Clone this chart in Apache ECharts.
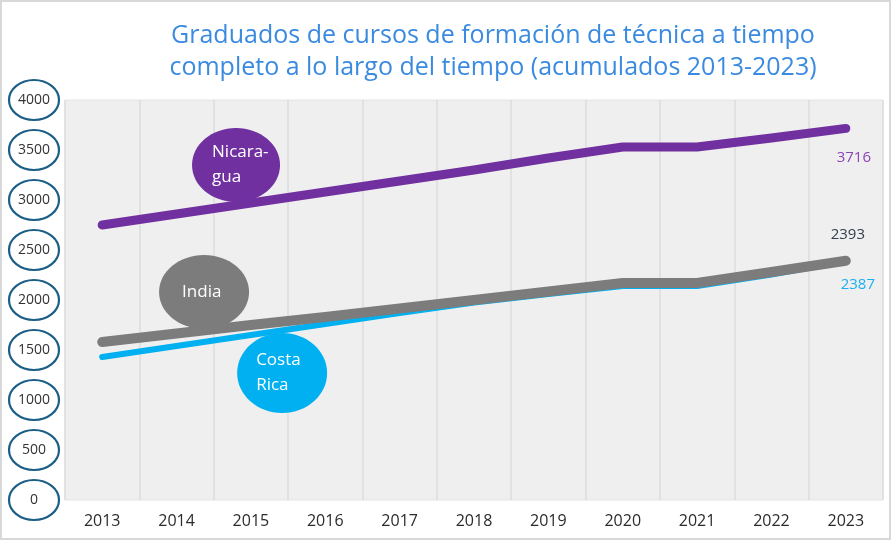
<!DOCTYPE html>
<html>
<head>
<meta charset="utf-8">
<script src="https://cdn.jsdelivr.net/npm/echarts@6/dist/echarts.min.js"></script>
<style>
  html, body { margin: 0; padding: 0; background: #fff; }
  #chart { width: 891px; height: 540px; }
</style>
</head>
<body>
<div id="chart"></div>
<script>
// data
const years = ['2013', '2014', '2015', '2016', '2017', '2018', '2019', '2020', '2021', '2022', '2023'];
const nicaragua = [2750, 2860, 2970, 3080, 3190, 3300, 3420, 3530, 3530, 3620, 3716];
const india = [1580, 1665, 1750, 1830, 1915, 2000, 2085, 2170, 2170, 2280, 2393];
const costaRica = [1430, 1540, 1650, 1760, 1870, 1975, 2060, 2140, 2140, 2255, 2387];
const yTicks = [0, 500, 1000, 1500, 2000, 2500, 3000, 3500, 4000];

const FONT = '"Open Sans", sans-serif';
const chart = echarts.init(document.getElementById('chart'));
const last = years.length - 1;

// value label on the last point only
const endMark = (values, color, offset) => ({
    symbol: 'circle',
    symbolSize: 2,
    silent: true,
    itemStyle: { color: 'rgba(0,0,0,0)' },
    label: { show: true, position: 'inside', offset, color, fontFamily: FONT, fontSize: 15, formatter: '{c}' },
    data: [{ coord: [last, values[last]], value: values[last] }]
});

const option = {
    backgroundColor: '#fff',
    title: {
        text: 'Graduados de cursos de formación de técnica a tiempo\ncompleto a lo largo del tiempo (acumulados 2013-2023)',
        left: 488,
        top: 15,
        textAlign: 'center',
        textStyle: { color: '#3a8be0', fontFamily: FONT, fontSize: 25, fontWeight: 'normal', lineHeight: 32 }
    },
    grid: { left: 65, right: 8, top: 100, bottom: 40, show: true, backgroundColor: '#efefef', borderColor: '#e4e4e4', borderWidth: 1 },
    xAxis: {
        type: 'category',
        data: years,
        boundaryGap: true,
        axisLine: { show: false },
        axisTick: { show: false },
        axisLabel: { color: '#2b2b2b', fontFamily: FONT, fontSize: 16, margin: 13 },
        splitLine: { show: true, interval: 0, lineStyle: { color: '#dcdcdc', width: 1.5 } }
    },
    yAxis: {
        type: 'value',
        min: 0,
        max: 4000,
        interval: 500,
        axisLine: { show: false },
        axisTick: { show: false },
        splitLine: { show: false },
        axisLabel: { color: '#333', fontFamily: FONT, fontSize: 14, align: 'center', margin: 31, formatter: v => String(v) }
    },
    series: [
        {
            name: 'Costa Rica', type: 'line', data: costaRica, symbol: 'none', z: 2,
            lineStyle: { color: '#00b0f0', width: 6, cap: 'round', join: 'round' },
            markPoint: endMark(costaRica, '#1ab0f0', [12, 23])
        },
        {
            name: 'India', type: 'line', data: india, symbol: 'none', z: 3,
            lineStyle: { color: '#7c7c7c', width: 10, cap: 'round', join: 'round' },
            markPoint: endMark(india, '#333f4f', [2, -26])
        },
        {
            name: 'Nicaragua', type: 'line', data: nicaragua, symbol: 'none', z: 4,
            lineStyle: { color: '#7030a0', width: 9, cap: 'round', join: 'round' },
            markPoint: endMark(nicaragua, '#8a45b8', [8, 29])
        }
    ]
};
chart.setOption(option);

// tick rings and callout bubbles, placed through the grid's scales
const px = (xi, v) => {
    const a = chart.convertToPixel({ gridIndex: 0 }, [0, v]);
    const b = chart.convertToPixel({ gridIndex: 0 }, [1, v]);
    return [a[0] + (b[0] - a[0]) * xi, a[1]];
};
const rings = yTicks.map(v => ({
    type: 'ellipse', z: 0,
    shape: { cx: 34, cy: px(0, v)[1], rx: 25, ry: 20 },
    style: { fill: null, stroke: '#1b5e86', lineWidth: 2.2 }
}));
const bubble = (xi, v, rx, ry, color, text, dx) => {
    const p = px(xi, v);
    return {
        type: 'group', z: 10,
        children: [
            { type: 'ellipse', shape: { cx: p[0], cy: p[1], rx, ry }, style: { fill: color } },
            {
                type: 'text', x: p[0] + dx, y: p[1],
                style: { text, fill: '#fff', font: '17px ' + FONT, verticalAlign: 'middle', lineHeight: 25 }
            }
        ]
    };
};
chart.setOption({
    graphic: [
        { type: 'rect', shape: { x: 1, y: 1, width: 889, height: 538 }, style: { fill: null, stroke: '#d8d8d8', lineWidth: 2 }, z: 0 },
        ...rings,
        bubble(1.8, 3350, 44, 37, '#7030a0', 'Nicara-\ngua', -24),
        bubble(1.37, 2080, 45, 37, '#7c7c7c', 'India', -22),
        bubble(2.42, 1270, 45, 40, '#00b0f0', 'Costa\nRica', -26)
    ]
});
</script>
</body>
</html>
